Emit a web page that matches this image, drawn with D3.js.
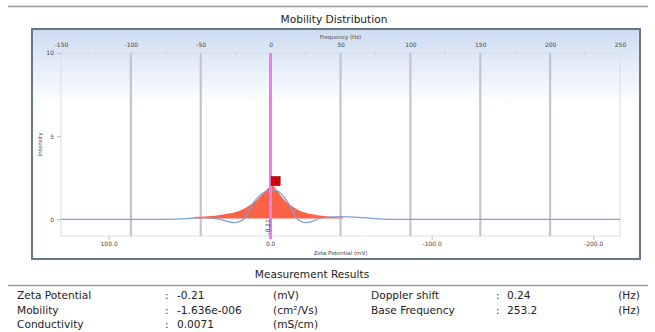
<!DOCTYPE html>
<html>
<head>
<meta charset="utf-8">
<script src="https://cdn.jsdelivr.net/npm/d3@7"></script>
<style>
  body { margin: 0; background: #fff; }
  text { font-family: 'DejaVu Sans', Verdana, sans-serif; }
</style>
</head>
<body>
<div id="chart"></div>
<script>
// frequency (Hz) of the fitted distribution and the raw spectrum
const rawFreq = [-150, -80, -70, -60, -50, -42, -36, -30, -26, -22, -18, -14, -10, -6, -2, 2, 6, 10, 14, 18, 21, 25, 29, 33, 40, 50, 60, 70, 80, 90, 250];
const rawIntensity = [0, 0, 0.01, 0.04, 0.1, 0.08, 0, -0.14, -0.2, -0.12, 0.1, 0.75, 1.25, 1.55, 1.72, 1.78, 1.65, 1.3, 0.8, 0.15, -0.1, -0.19, -0.15, 0, 0.12, 0.17, 0.14, 0.07, 0.02, 0, 0];

const distFreq = [-54, -50, -40, -30, -20, -15, -10, -5, -2, 1, 4, 8, 10, 15, 20, 30, 40, 50, 52];
const distIntensity = [0.15, 0.16, 0.22, 0.35, 0.6, 0.85, 1.15, 1.6, 1.85, 2.05, 1.8, 1.35, 1.15, 0.8, 0.55, 0.3, 0.18, 0.11, 0.1];

const peakFreq = [3.6];
const peakIntensity = [2.3];
const peakLabels = ['1'];

const zetaMean = -0.21;

const freqTicks = [-150, -100, -50, 0, 50, 100, 150, 200, 250];
const freqMinor = [-125, -75, -25, 25, 75, 125, 175, 225];
const freqGrid = [-100, -50, 0, 50, 100, 150, 200];
const zetaTicks = [100, 0, -100, -200];
const intensityTicks = [0, 5, 10];

const resultsLeft = [
  ['Zeta Potential', '-0.21', '(mV)'],
  ['Mobility', '-1.636e-006', '(cm²/Vs)'],
  ['Conductivity', '0.0071', '(mS/cm)'],
];
const resultsRight = [
  ['Doppler shift', '0.24', '(Hz)'],
  ['Base Frequency', '253.2', '(Hz)'],
];

const visualConfig = {
  width: 655,
  height: 332,
  frame: { x: 32, y: 29, w: 608, h: 230 },
  plot: { left: 61, right: 620, top: 53, bottom: 236 },
  color: {
    text: '#222',
    tick: '#444',
    grid: '#c2c6cc',
    plotBorder: '#d9dde2',
    frame: '#67778a',
    raw: '#7fa0d8',
    dist: '#fb6247',
    mean: '#ea7fea',
    peak: '#e00000',
  },
};

const p = visualConfig.plot;
const c = visualConfig.color;

// plain hyphen for negative numbers, like the original software
const locale = d3.formatLocale({
  decimal: '.',
  thousands: ',',
  grouping: [3],
  currency: ['', ''],
  minus: '-',
});

const svg = d3
  .select('#chart')
  .append('svg')
  .attr('width', visualConfig.width)
  .attr('height', visualConfig.height);

const defs = svg.append('defs');
const grad = defs
  .append('linearGradient')
  .attr('id', 'frame-bg')
  .attr('x1', 0).attr('y1', 0).attr('x2', 0).attr('y2', 1);
grad.append('stop').attr('offset', '0%').attr('stop-color', '#cddcf0');
grad.append('stop').attr('offset', '33%').attr('stop-color', '#ffffff');
grad.append('stop').attr('offset', '100%').attr('stop-color', '#ffffff');

// top rule + title
svg.append('line')
  .attr('x1', 8).attr('x2', 648).attr('y1', 6.5).attr('y2', 6.5)
  .attr('stroke', '#9a9a9a').attr('stroke-width', 1.5);
svg.append('text')
  .attr('x', 334).attr('y', 23)
  .attr('text-anchor', 'middle')
  .attr('font-size', 10.6)
  .attr('fill', c.text)
  .text('Mobility Distribution');

// chart frame
const f = visualConfig.frame;
svg.append('rect')
  .attr('x', f.x).attr('y', f.y).attr('width', f.w).attr('height', f.h)
  .attr('fill', 'url(#frame-bg)')
  .attr('stroke', c.frame)
  .attr('stroke-width', 2);

// scales
const x = d3.scaleLinear().domain([-150, 250]).range([p.left, p.right]);
const zeta = d3.scaleLinear().domain([129.5, -216.6]).range([p.left, p.right]);
const y = d3.scaleLinear().domain([-1, 10]).range([p.bottom, p.top]);

// plot border
svg.append('rect')
  .attr('x', p.left).attr('y', p.top)
  .attr('width', p.right - p.left).attr('height', p.bottom - p.top)
  .attr('fill', 'none')
  .attr('stroke', c.plotBorder)
  .attr('stroke-width', 1);

// vertical grid at frequency ticks
svg.append('g')
  .selectAll('line')
  .data(freqGrid)
  .join('line')
  .attr('x1', (d) => x(d)).attr('x2', (d) => x(d))
  .attr('y1', p.top).attr('y2', p.bottom)
  .attr('stroke', c.grid)
  .attr('stroke-width', 2.2);

// minor ticks on top edge
svg.append('g')
  .selectAll('line')
  .data(freqMinor)
  .join('line')
  .attr('x1', (d) => x(d)).attr('x2', (d) => x(d))
  .attr('y1', p.top - 1).attr('y2', p.top + 2)
  .attr('stroke', '#c8ccd2');

function styleAxis(g) {
  g.select('.domain').remove();
  g.selectAll('line').attr('stroke', '#b8bcc2');
  g.selectAll('text')
    .attr('font-size', 6)
    .attr('fill', c.tick)
    .attr('font-family', "'DejaVu Sans', sans-serif");
}

// top axis (frequency)
svg.append('g')
  .attr('transform', `translate(0,${p.top})`)
  .call(d3.axisTop(x).tickValues(freqTicks).tickFormat(locale.format('d')).tickSize(0).tickPadding(6))
  .call(styleAxis);
svg.append('text')
  .attr('x', (p.left + p.right) / 2).attr('y', 39)
  .attr('text-anchor', 'middle')
  .attr('font-size', 5.5)
  .attr('fill', c.tick)
  .text('Frequency (Hz)');

// left axis (intensity)
svg.append('g')
  .attr('transform', `translate(${p.left},0)`)
  .call(d3.axisLeft(y).tickValues(intensityTicks).tickSize(4).tickPadding(3))
  .call(styleAxis);
svg.append('text')
  .attr('transform', `translate(42,${(p.top + p.bottom) / 2}) rotate(-90)`)
  .attr('text-anchor', 'middle')
  .attr('font-size', 5.5)
  .attr('fill', c.tick)
  .text('Intensity');

// bottom axis (zeta potential)
svg.append('g')
  .attr('transform', `translate(0,${p.bottom})`)
  .call(d3.axisBottom(zeta).tickValues(zetaTicks).tickFormat(locale.format('.1f')).tickSize(4).tickPadding(2))
  .call(styleAxis);
svg.append('text')
  .attr('x', (p.left + p.right) / 2).attr('y', 255)
  .attr('text-anchor', 'middle')
  .attr('font-size', 5.5)
  .attr('fill', c.tick)
  .text('Zeta Potential (mV)');

// distribution area
const dist = distFreq.map((d, i) => ({ f: d, v: distIntensity[i] }));
svg.append('path')
  .datum(dist)
  .attr('fill', c.dist)
  .attr('d', d3.area()
    .x((d) => x(d.f))
    .y0(y(0.05))
    .y1((d) => y(d.v))
    .curve(d3.curveMonotoneX));

// raw spectrum line
const raw = rawFreq.map((d, i) => ({ f: d, v: rawIntensity[i] }));
svg.append('path')
  .datum(raw)
  .attr('fill', 'none')
  .attr('stroke', c.raw)
  .attr('stroke-width', 1.3)
  .attr('d', d3.line()
    .x((d) => x(d.f))
    .y((d) => y(d.v))
    .curve(d3.curveMonotoneX));

// mean zeta line
svg.append('line')
  .attr('x1', zeta(zetaMean)).attr('x2', zeta(zetaMean))
  .attr('y1', p.top).attr('y2', p.bottom + 3)
  .attr('stroke', c.mean)
  .attr('stroke-width', 3);
svg.append('text')
  .attr('transform', `translate(${zeta(zetaMean) - 0.5},${p.bottom - 9}) rotate(-90)`)
  .attr('text-anchor', 'middle')
  .attr('font-size', 6)
  .attr('fill', '#333')
  .text(locale.format('.2f')(zetaMean));

// peak marker
const peaks = svg.append('g')
  .selectAll('g')
  .data(peakFreq.map((d, i) => ({ f: d, v: peakIntensity[i], label: peakLabels[i] })))
  .join('g')
  .attr('transform', (d) => `translate(${x(d.f)},${y(d.v)})`);
peaks.append('rect')
  .attr('x', -4.5).attr('y', -4.5).attr('width', 9).attr('height', 9)
  .attr('fill', c.peak)
  .attr('stroke', '#8a0000')
  .attr('stroke-width', 0.6);
peaks.append('text')
  .attr('y', 2.2)
  .attr('text-anchor', 'middle')
  .attr('font-size', 6)
  .attr('fill', '#3a0000')
  .text((d) => d.label);

// measurement results
svg.append('text')
  .attr('x', 312).attr('y', 278)
  .attr('text-anchor', 'middle')
  .attr('font-size', 10.6)
  .attr('fill', c.text)
  .text('Measurement Results');
svg.append('line')
  .attr('x1', 8).attr('x2', 648).attr('y1', 285.5).attr('y2', 285.5)
  .attr('stroke', '#9a9a9a').attr('stroke-width', 1.5);

function resultRows(rows, cols) {
  const g = svg.append('g');
  rows.forEach((row, i) => {
    const by = 299 + i * 14.6;
    g.append('text').attr('x', cols[0]).attr('y', by).text(row[0]);
    g.append('text').attr('x', cols[1]).attr('y', by).text(':');
    g.append('text').attr('x', cols[2]).attr('y', by).text(row[1]);
    g.append('text').attr('x', cols[3]).attr('y', by)
      .attr('text-anchor', cols[4] || 'start').text(row[2]);
  });
  g.selectAll('text').attr('font-size', 10.6).attr('fill', c.text);
}
resultRows(resultsLeft, [17, 165, 177, 273]);
resultRows(resultsRight, [371, 496, 507, 640, 'end']);
</script>
</body>
</html>
